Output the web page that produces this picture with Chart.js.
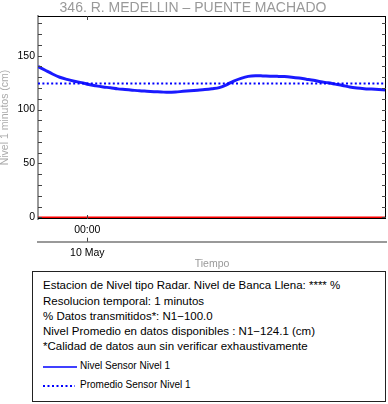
<!DOCTYPE html>
<html>
<head>
<meta charset="utf-8">
<script src="https://cdn.jsdelivr.net/npm/chart.js@4"></script>
<style>
  body { margin: 0; background: #fff; font-family: 'Liberation Sans', Arial, sans-serif; }
  #wrap { position: relative; width: 388px; height: 404px; }
  #plot { position: absolute; left: 0; top: 0; width: 388px; height: 270px; }
  #info {
    position: absolute; left: 32px; top: 271px; width: 352px; height: 129px;
    border: 1.5px solid #222; box-sizing: content-box;
    font-size: 11.5px; color: #000; padding: 0;
  }
  #info .ln { position: absolute; left: 10px; white-space: nowrap; line-height: 14px; }
  #info .lg { position: absolute; left: 47px; font-size: 10px; white-space: nowrap; line-height: 12px; }
  #info svg { position: absolute; left: 10px; }
</style>
</head>
<body>
<div id="wrap">
  <div id="plot"><canvas id="nivelChart"></canvas></div>
  <div id="info">
    <div class="ln" style="top:6px">Estacion de Nivel tipo Radar. Nivel de Banca Llena: **** %</div>
    <div class="ln" style="top:21.5px">Resolucion temporal: 1 minutos</div>
    <div class="ln" style="top:36.5px">% Datos transmitidos*: N1&minus;100.0</div>
    <div class="ln" style="top:52px">Nivel Promedio en datos disponibles : N1&minus;124.1 (cm)</div>
    <div class="ln" style="top:67px">*Calidad de datos aun sin verificar exhaustivamente</div>
    <svg style="top:92px" width="36" height="6"><line x1="0" y1="3" x2="34" y2="3" stroke="#0000ff" stroke-width="1.6"/></svg>
    <div class="lg" style="top:88px">Nivel Sensor Nivel 1</div>
    <svg style="top:111px" width="36" height="6"><line x1="0" y1="3" x2="32" y2="3" stroke="#0000ff" stroke-width="2" stroke-dasharray="2 2.5"/></svg>
    <div class="lg" style="top:107px">Promedio Sensor Nivel 1</div>
  </div>
</div>
<script>
/* ========================================
   Nivel 1 minutos - 346. R. MEDELLIN
   ======================================== */

const chartTitle = '346. R. MEDELLIN \u2013 PUENTE MACHADO';

// hours relative to 10 May 00:00
const hours = [-3.4, -2.9, -2.4, -1.9, -1.4, -0.9, -0.4, 0.1, 0.6, 1.1,
    1.6, 2.1, 2.6, 3.1, 3.6, 4.1, 4.6, 5.1, 5.6, 6.1,
    6.6, 7.1, 7.6, 8.1, 8.6, 9.1, 9.6, 10.1, 10.6, 11.1,
    11.6, 12.1, 12.6, 13.1, 13.6, 14.1, 14.6, 15.1, 15.6, 16.1,
    16.6, 17.1, 17.6, 18.1, 18.6, 19.1, 19.6, 20.1, 20.6];

// nivel sensor (cm)
const nivel = [140, 136.5, 133, 130, 128, 126.3, 125, 123.2, 122, 121,
    120.2, 119.2, 118.6, 118, 117.4, 117, 116.6, 116.3, 116, 116.3,
    116.9, 117.4, 118, 118.6, 119.4, 120.4, 123, 126.5, 129, 130.8,
    131.4, 131.2, 130.9, 130.8, 130.6, 130, 129.2, 128.2, 127.2, 125.8,
    124.8, 123.6, 122.4, 120.9, 120, 119.4, 119, 118.6, 118.2];

const promedio = 124.1;
const bancaBase = 0;

const xRange = [-3.4, 20.6];
const yRange = [-1.5, 186.8];
const yLabelTicks = [0, 50, 100, 150];
const yMinorTicks = [0, 10, 20, 30, 40, 50, 60, 70, 80, 90, 100, 110, 120, 130, 140, 150, 160, 170, 180];
const timeTicks = [0];
const timeTickLabels = ['00:00'];
const dateTickLabels = ['10 May'];

const FONT = "'Liberation Sans', Arial, sans-serif";

// frame + inward tick marks (R style)
const framePlugin = {
    id: 'frame',
    afterDraw(chart) {
        const ctx = chart.ctx;
        const { left, right, top, bottom } = chart.chartArea;
        const y = chart.scales.y;
        const x = chart.scales.x;
        const x2 = chart.scales.x2;
        ctx.save();
        ctx.lineWidth = 1;
        ctx.strokeStyle = '#000';
        ctx.beginPath();
        ctx.moveTo(left, top + 0.5);
        ctx.lineTo(right, top + 0.5);
        ctx.moveTo(right - 0.5, top);
        ctx.lineTo(right - 0.5, bottom);
        ctx.moveTo(left, bottom - 0.5);
        ctx.lineTo(right, bottom - 0.5);
        ctx.stroke();

        ctx.strokeStyle = '#444';
        ctx.beginPath();
        yMinorTicks.forEach(v => {
            const py = Math.round(y.getPixelForValue(v)) + 0.5;
            ctx.moveTo(left, py);
            ctx.lineTo(left + 4, py);
            ctx.moveTo(right - 4, py);
            ctx.lineTo(right, py);
        });
        timeTicks.forEach(v => {
            const px = Math.round(x.getPixelForValue(v)) + 0.5;
            ctx.moveTo(px, top);
            ctx.lineTo(px, top + 4);
            ctx.moveTo(px, bottom - 4);
            ctx.lineTo(px, bottom);
            ctx.moveTo(px, x2.top - 4);
            ctx.lineTo(px, x2.top);
        });
        ctx.stroke();
        ctx.restore();
    }
};

const nivelPoints = hours.map((h, i) => ({ x: h, y: nivel[i] }));
const promedioPoints = xRange.map(h => ({ x: h, y: promedio }));
const basePoints = xRange.map(h => ({ x: h, y: bancaBase }));

new Chart(document.getElementById('nivelChart'), {
    type: 'line',
    data: {
        datasets: [
            {
                label: 'Promedio Sensor Nivel 1',
                data: promedioPoints,
                borderColor: 'blue',
                borderWidth: 2,
                borderDash: [2, 2.4],
                pointRadius: 0,
                fill: false
            },
            {
                label: 'Nivel Sensor Nivel 1',
                data: nivelPoints,
                borderColor: '#1a1aff',
                borderWidth: 3,
                pointRadius: 0,
                tension: 0.3,
                fill: false
            },
            {
                label: 'Base',
                data: basePoints,
                borderColor: 'red',
                borderWidth: 2,
                pointRadius: 0,
                fill: false
            }
        ]
    },
    options: {
        responsive: true,
        maintainAspectRatio: false,
        animation: false,
        layout: { padding: { top: 0, right: 2, bottom: 0, left: 0 } },
        plugins: {
            legend: { display: false },
            tooltip: { enabled: false },
            title: {
                display: true,
                text: chartTitle,
                color: '#999',
                font: { family: FONT, size: 14, weight: 'normal', lineHeight: 0.9 },
                padding: { top: 1.5, bottom: 1.9 }
            }
        },
        scales: {
            x: {
                type: 'linear',
                position: 'bottom',
                weight: 1,
                min: xRange[0],
                max: xRange[1],
                afterFit: s => { s.height = 22.7; },
                afterBuildTicks: s => { s.ticks = timeTicks.map(v => ({ value: v })); },
                ticks: {
                    color: '#000',
                    font: { family: FONT, size: 10.5 },
                    padding: 5,
                    maxRotation: 0,
                    callback: (v, i) => timeTickLabels[i]
                },
                grid: { display: true, drawOnChartArea: false, drawTicks: false },
                border: { display: false }
            },
            x2: {
                type: 'linear',
                position: 'bottom',
                weight: 2,
                min: xRange[0],
                max: xRange[1],
                afterFit: s => { s.height = 28.3; },
                afterBuildTicks: s => { s.ticks = timeTicks.map(v => ({ value: v })); },
                ticks: {
                    color: '#000',
                    font: { family: FONT, size: 10.5 },
                    padding: 5,
                    maxRotation: 0,
                    callback: (v, i) => dateTickLabels[i]
                },
                grid: { display: true, drawOnChartArea: false, drawTicks: false },
                border: { display: true, color: '#999', width: 2 },
                title: {
                    display: true,
                    text: 'Tiempo',
                    color: '#999',
                    font: { family: FONT, size: 10.5 },
                    padding: { top: 0, bottom: 0 }
                }
            },
            y: {
                position: 'left',
                min: yRange[0],
                max: yRange[1],
                afterFit: s => { s.width = 38; },
                afterBuildTicks: s => { s.ticks = yLabelTicks.map(v => ({ value: v })); },
                ticks: {
                    color: '#000',
                    font: { family: FONT, size: 10.5 },
                    padding: 3
                },
                grid: { display: true, drawOnChartArea: false, drawTicks: false },
                border: { display: true, color: '#999', width: 2 },
                title: {
                    display: true,
                    text: 'Nivel 1 minutos (cm)',
                    color: '#aaa',
                    font: { family: FONT, size: 10.5, lineHeight: 1 },
                    padding: { top: 0, bottom: 0 }
                }
            }
        }
    },
    plugins: [framePlugin]
});
</script>
</body>
</html>
